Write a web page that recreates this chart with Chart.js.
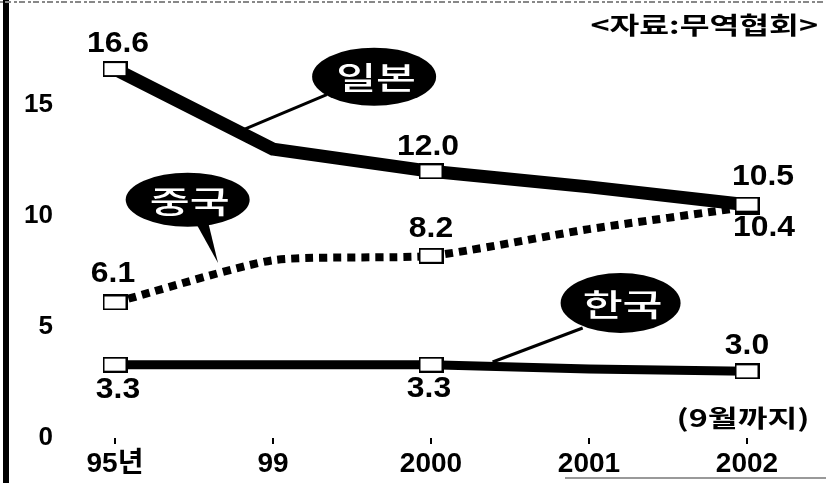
<!DOCTYPE html>
<html>
<head>
<meta charset="utf-8">
<script src="https://cdn.jsdelivr.net/npm/chart.js@4.4.1/dist/chart.umd.min.js"></script>
<style>
  html, body { margin: 0; padding: 0; background: #fff; }
  #wrap { width: 826px; height: 483px; }
</style>
</head>
<body>
<div id="wrap"><canvas id="tradeChart" width="826" height="483"></canvas></div>
<script>
// categories and series
var years = ["95년", "99", "2000", "2001", "2002"];
var japan = [16.6, 13.0, 12.0, 11.3, 10.5];
var china = [6.1, 8.0, 8.2, 9.4, 10.4];
var korea = [3.3, 3.3, 3.3, 3.1, 3.0];
var yTicks = [0, 5, 10, 15];
var markedPoints = [0, 2, 4];
var sourceText = "<자료:무역협회>";
var noteText = "(9월까지)";

var numFont = "bold 29px 'Liberation Sans', Arial, sans-serif";
var krFont = "'Noto Sans CJK KR', sans-serif";

// white box marker
var marker = document.createElement("canvas");
marker.width = 25;
marker.height = 16;
(function() {
  var c = marker.getContext("2d");
  c.fillStyle = "#fff";
  c.fillRect(1, 1, 23, 14);
  c.strokeStyle = "#000";
  c.lineWidth = 2;
  c.strokeRect(1, 1, 23, 14);
})();

var radiusFor = function(n) {
  var r = [];
  for (var i = 0; i < n; i++) r.push(markedPoints.indexOf(i) >= 0 ? 6 : 0);
  return r;
};

// where each value label sits relative to its point (px)
var valueLabels = [
  { ds: 0, i: 0, dx: 3, dy: -25 },
  { ds: 0, i: 2, dx: -3, dy: -24 },
  { ds: 0, i: 4, dx: 16, dy: -28 },
  { ds: 1, i: 0, dx: -2, dy: -28 },
  { ds: 1, i: 2, dx: 0, dy: -27 },
  { ds: 1, i: 4, dx: 17, dy: 21 },
  { ds: 2, i: 0, dx: 3, dy: 25 },
  { ds: 2, i: 2, dx: -2, dy: 24 },
  { ds: 2, i: 4, dx: 0, dy: -25 }
];

// callout bubbles, in axis coordinates (category index, value)
var bubbles = [
  { text: "일본", cx: 1.64, cy: 16.26, rx: 62, ry: 29,
    line: [[1.34, 15.45], [0.81, 13.87]] },
  { text: "중국", cx: 0.46, cy: 10.72, rx: 62, ry: 27,
    tail: [[0.51, 9.7], [0.59, 9.7], [0.652, 7.88]] },
  { text: "한국", cx: 3.2, cy: 6.08, rx: 60, ry: 30,
    line: [[2.96, 4.95], [2.39, 3.42]] }
];

// text stretched sideways like the newspaper lettering
function wideText(ctx, text, x, y, sx, align) {
  ctx.save();
  ctx.translate(x, y);
  ctx.scale(sx, 1);
  ctx.textAlign = align;
  ctx.textBaseline = "middle";
  ctx.fillText(text, 0, 0);
  ctx.restore();
}

var decorPlugin = {
  id: "decor",
  beforeDraw: function(chart) {
    var ctx = chart.ctx;
    ctx.save();
    ctx.fillStyle = "#fff";
    ctx.fillRect(0, 0, chart.width, chart.height);
    ctx.fillStyle = "#000";
    ctx.fillRect(3, 0, 6, chart.height);
    ctx.strokeStyle = "#888";
    ctx.lineWidth = 2;
    ctx.setLineDash([3, 2, 6, 3]);
    ctx.beginPath();
    ctx.moveTo(0, 2);
    ctx.lineTo(chart.width, 2);
    ctx.stroke();
    ctx.setLineDash([]);
    ctx.strokeStyle = "#999";
    ctx.beginPath();
    ctx.moveTo(565, 478);
    ctx.lineTo(chart.width, 478);
    ctx.stroke();
    ctx.restore();
  },
  afterDatasetsDraw: function(chart) {
    var ctx = chart.ctx;
    var xs = chart.scales.x, ys = chart.scales.y;
    var px = function(v) { return xs.getPixelForValue(v); };
    var py = function(v) { return ys.getPixelForValue(v); };
    ctx.save();

    // value labels
    ctx.fillStyle = "#000";
    ctx.font = numFont;
    valueLabels.forEach(function(l) {
      var pt = chart.getDatasetMeta(l.ds).data[l.i];
      var v = chart.data.datasets[l.ds].data[l.i];
      wideText(ctx, v.toFixed(1), pt.x + l.dx, pt.y + l.dy, 1.1, "center");
    });

    // callouts
    bubbles.forEach(function(b) {
      var cx = px(b.cx), cy = py(b.cy);
      ctx.fillStyle = "#000";
      ctx.strokeStyle = "#000";
      if (b.line) {
        ctx.lineWidth = 3;
        ctx.beginPath();
        ctx.moveTo(px(b.line[0][0]), py(b.line[0][1]));
        ctx.lineTo(px(b.line[1][0]), py(b.line[1][1]));
        ctx.stroke();
      }
      if (b.tail) {
        ctx.beginPath();
        ctx.moveTo(px(b.tail[0][0]), py(b.tail[0][1]));
        ctx.lineTo(px(b.tail[1][0]), py(b.tail[1][1]));
        ctx.lineTo(px(b.tail[2][0]), py(b.tail[2][1]));
        ctx.closePath();
        ctx.fill();
      }
      ctx.beginPath();
      ctx.ellipse(cx, cy, b.rx, b.ry, 0, 0, Math.PI * 2);
      ctx.fill();
      ctx.fillStyle = "#fff";
      ctx.font = "500 31px " + krFont;
      wideText(ctx, b.text, cx + 2, cy + 1, 1.4, "center");
    });

    // source and note
    ctx.fillStyle = "#000";
    ctx.font = "bold 24px " + krFont;
    wideText(ctx, sourceText, 818, 25, 1.35, "right");
    ctx.font = "bold 24px " + krFont;
    wideText(ctx, noteText, px(4) - 4, 418, 1.35, "center");
    ctx.restore();
  }
};

var config = {
  type: "line",
  data: {
    labels: years,
    datasets: [
      {
        label: "일본",
        data: japan,
        borderColor: "#000",
        borderWidth: 13,
        borderJoinStyle: "round",
        tension: 0,
        pointStyle: marker,
        pointRadius: radiusFor(japan.length)
      },
      {
        label: "중국",
        data: china,
        borderColor: "#000",
        borderWidth: 8,
        borderDash: [8, 6],
        borderCapStyle: "butt",
        tension: 0.2,
        pointStyle: marker,
        pointRadius: radiusFor(china.length)
      },
      {
        label: "한국",
        data: korea,
        borderColor: "#000",
        borderWidth: 9,
        tension: 0,
        pointStyle: marker,
        pointRadius: radiusFor(korea.length)
      }
    ]
  },
  options: {
    responsive: false,
    animation: false,
    devicePixelRatio: 1,
    layout: { padding: { left: 0, right: 79, top: 38, bottom: 0 } },
    plugins: {
      legend: { display: false },
      tooltip: { enabled: false }
    },
    scales: {
      x: {
        offset: false,
        border: { display: false },
        grid: {
          drawOnChartArea: false,
          drawTicks: true,
          tickLength: 6,
          color: "#000",
          lineWidth: 2
        },
        ticks: {
          color: "#000",
          padding: 3,
          maxRotation: 0,
          font: { family: "'Liberation Sans', 'Noto Sans CJK KR', sans-serif", size: 28, weight: "bold" }
        },
        afterFit: function(scale) { scale.height = 45; }
      },
      y: {
        min: 0,
        max: 18,
        border: { display: false },
        grid: { display: false, drawTicks: false },
        ticks: {
          color: "#000",
          padding: 62,
          font: { family: "'Liberation Sans', sans-serif", size: 26, weight: "bold" }
        },
        afterBuildTicks: function(scale) {
          scale.ticks = yTicks.map(function(v) { return { value: v }; });
        },
        afterFit: function(scale) {
          scale.width = 115;
          scale.paddingTop = 0;
          scale.paddingBottom = 0;
        }
      }
    }
  },
  plugins: [decorPlugin]
};

var tradeChart = new Chart(document.getElementById("tradeChart"), config);
</script>
</body>
</html>
